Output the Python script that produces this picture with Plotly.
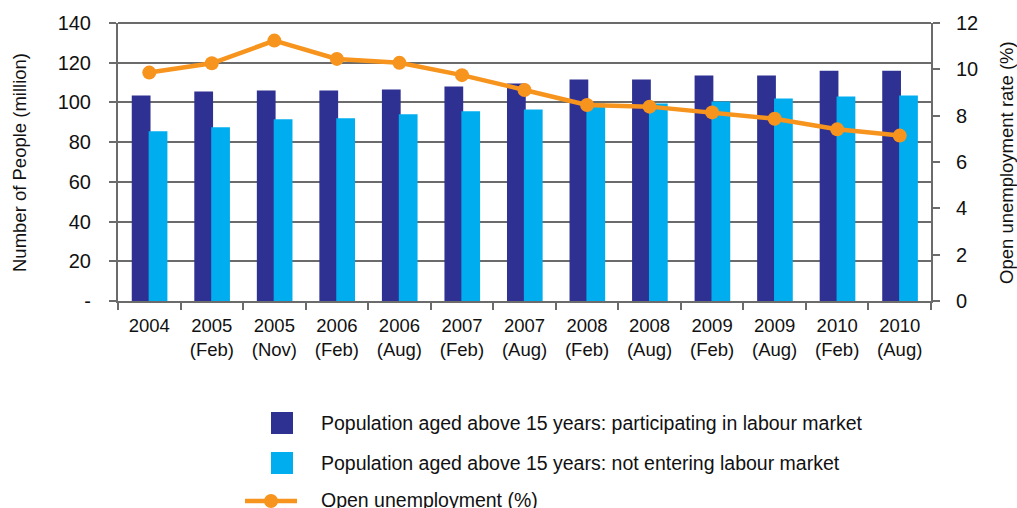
import plotly.graph_objects as go

# Survey periods
periods = ["2004", "2005<br>(Feb)", "2005<br>(Nov)", "2006<br>(Feb)", "2006<br>(Aug)",
           "2007<br>(Feb)", "2007<br>(Aug)", "2008<br>(Feb)", "2008<br>(Aug)",
           "2009<br>(Feb)", "2009<br>(Aug)", "2010<br>(Feb)", "2010<br>(Aug)"]

# Population aged above 15 (million people)
participating = [103.5, 105.5, 106.0, 106.0, 106.5, 108.0, 109.5, 111.5, 111.5, 113.5, 113.5, 116.0, 116.0]
not_entering = [85.5, 87.5, 91.5, 92.0, 94.0, 95.5, 96.5, 99.5, 99.5, 100.5, 102.0, 103.0, 103.5]

# Open unemployment rate (%)
unemployment = [9.86, 10.26, 11.24, 10.45, 10.28, 9.75, 9.11, 8.46, 8.39, 8.14, 7.87, 7.41, 7.14]

left_ticks = [0, 20, 40, 60, 80, 100, 120, 140]
left_ticktext = ["-", "20", "40", "60", "80", "100", "120", "140"]
right_ticks = [0, 2, 4, 6, 8, 10, 12]

NAVY = "#2E3192"
CYAN = "#00AEEF"
ORANGE = "#F7941D"
GRID = "#6b6b6b"
FONT = "Liberation Sans, Arial, sans-serif"

W, H = 1017, 508
L, R, T, B = 118, 86, 23, 207
PW, PH = W - L - R, H - T - B


def px(x):
    return (x - L) / PW


def py(y):
    return (H - B - y) / PH


fig = go.Figure()
fig.add_trace(go.Bar(
    x=periods, y=participating, marker_color=NAVY, marker_line_width=0,
    width=0.3, offset=-0.28, name="Population aged above 15 years: participating in labour market",
    showlegend=False, hoverinfo="y",
))
fig.add_trace(go.Bar(
    x=periods, y=not_entering, marker_color=CYAN, marker_line_width=0,
    width=0.3, offset=-0.01, name="Population aged above 15 years: not entering labour market",
    showlegend=False, hoverinfo="y",
))
fig.add_trace(go.Scatter(
    x=periods, y=unemployment, yaxis="y2", mode="lines+markers",
    line=dict(color=ORANGE, width=4.5), marker=dict(color=ORANGE, size=14),
    name="Open unemployment (%)", showlegend=False, hoverinfo="y",
))

# Top border of the plotting area (gridline at 140)
shapes = [dict(type="line", xref="paper", yref="paper", x0=0, x1=1, y0=1, y1=1,
               line=dict(color=GRID, width=2), layer="below")]

# Legend drawn as shapes and text beneath the chart
legend_rows = [
    ("bar", NAVY, 423, "Population aged above 15 years: participating in labour market"),
    ("bar", CYAN, 463, "Population aged above 15 years: not entering labour market"),
    ("line", ORANGE, 500, "Open unemployment (%)"),
]
annotations = []
for kind, color, yc, label in legend_rows:
    if kind == "bar":
        shapes.append(dict(type="rect", xref="paper", yref="paper",
                           x0=px(271), x1=px(293), y0=py(yc - 11), y1=py(yc + 11),
                           fillcolor=color, line_width=0, layer="above"))
    else:
        shapes.append(dict(type="line", xref="paper", yref="paper",
                           x0=px(245), x1=px(297), y0=py(yc + 1), y1=py(yc + 1),
                           line=dict(color=color, width=4.5), layer="above"))
        shapes.append(dict(type="circle", xref="paper", yref="paper",
                           x0=px(264), x1=px(278), y0=py(yc - 6), y1=py(yc + 8),
                           fillcolor=color, line_width=0, layer="above"))
    annotations.append(dict(text=label, xref="paper", yref="paper", x=px(319), y=py(yc),
                            xanchor="left", yanchor="middle", showarrow=False,
                            font=dict(family=FONT, size=19.5, color="#111111")))

annotations.append(dict(text="Number of People (million)", xref="paper", yref="paper",
                        x=px(19), y=py(163), textangle=-90, showarrow=False,
                        xanchor="center", yanchor="middle",
                        font=dict(family=FONT, size=18.5, color="#111111")))
annotations.append(dict(text="Open unemployment rate (%)", xref="paper", yref="paper",
                        x=px(1006), y=py(163), textangle=-90, showarrow=False,
                        xanchor="center", yanchor="middle",
                        font=dict(family=FONT, size=18.5, color="#111111")))

fig.update_layout(
    width=W, height=H,
    margin=dict(l=L, r=R, t=T, b=B, pad=0),
    paper_bgcolor="white", plot_bgcolor="white",
    barmode="overlay",
    font=dict(family=FONT, size=18, color="#111111"),
    shapes=shapes, annotations=annotations,
    xaxis=dict(
        type="category", tickson="boundaries", ticks="outside", ticklen=7,
        tickwidth=2, tickcolor=GRID, showline=True, linecolor=GRID, linewidth=2,
        showgrid=False, tickfont=dict(size=18.5), ticklabelstandoff=7,
        range=[-0.5, len(periods) - 0.5], fixedrange=True,
    ),
    yaxis=dict(
        range=[0, 140], tickvals=left_ticks, ticktext=left_ticktext,
        ticks="outside", ticklen=7, tickwidth=2, tickcolor=GRID,
        showline=True, linecolor=GRID, linewidth=2,
        showgrid=True, gridcolor=GRID, gridwidth=2, zeroline=False,
        tickfont=dict(size=20), ticklabelstandoff=14, fixedrange=True,
    ),
    yaxis2=dict(
        range=[0, 12], tickvals=right_ticks, overlaying="y", side="right",
        ticks="outside", ticklen=7, tickwidth=2, tickcolor=GRID,
        showline=True, linecolor=GRID, linewidth=2,
        showgrid=False, zeroline=False,
        tickfont=dict(size=20), ticklabelstandoff=12, fixedrange=True,
    ),
)

fig.write_html("out.html")
